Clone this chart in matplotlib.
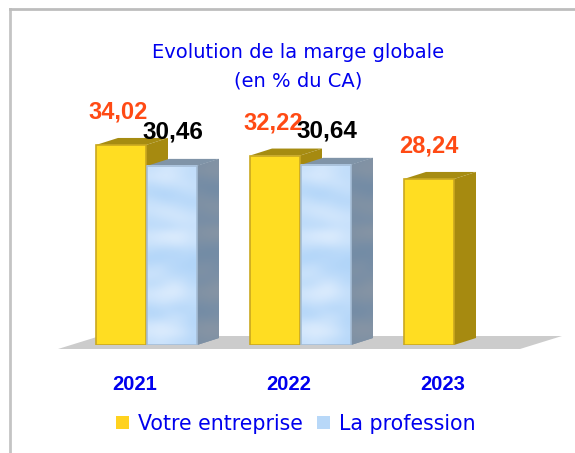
import matplotlib
matplotlib.use('Agg')
import matplotlib.pyplot as plt
import numpy as np
from matplotlib.patches import Polygon, Rectangle
from matplotlib.colors import LinearSegmentedColormap

years = ['2021', '2022', '2023']
votre_entreprise = [34.02, 32.22, 28.24]
la_profession = [30.46, 30.64]
labels_e = ['34,02', '32,22', '28,24']
labels_p = ['30,46', '30,64']
title = 'Evolution de la marge globale\n(en % du CA)'
legend_names = ['Votre entreprise', 'La profession']

# cloud pattern of the blue bars, read by eye (0 = sky, 1 = white), mostly horizontal streaks
clouds = [[.5, .6, .7, .6, .5, .4],
          [.7, .8, .8, .7, .5, .4],
          [.3, .4, .5, .5, .6, .5],
          [.2, .1, .1, .2, .3, .4],
          [.5, .4, .3, .3, .2, .2],
          [.6, .7, .7, .6, .5, .4],
          [.4, .5, .6, .7, .7, .6],
          [.3, .3, .3, .4, .5, .5],
          [.7, .8, .9, .9, .8, .6],
          [.6, .7, .7, .8, .7, .6],
          [.3, .2, .2, .2, .3, .3],
          [.1, .1, .2, .2, .2, .1],
          [.4, .5, .3, .2, .1, .1],
          [.6, .5, .4, .3, .3, .2],
          [.3, .4, .6, .7, .5, .3],
          [.7, .8, .9, .9, .7, .5],
          [.6, .7, .7, .6, .5, .4],
          [.2, .3, .3, .2, .2, .3],
          [.2, .2, .4, .5, .4, .2],
          [.7, .8, .7, .6, .4, .2],
          [.8, .9, .9, .8, .6, .3],
          [.5, .6, .5, .4, .3, .2]]
sky = LinearSegmentedColormap.from_list('sky', ['#acd2f8', '#e2effe'])
side = LinearSegmentedColormap.from_list('side', ['#6f8aa6', '#8a96a4'])

W, H = 575, 453
fig = plt.figure(figsize=(W / 100, H / 100), dpi=100)
base = 345
ax = fig.add_axes([0, (H - base) / H, 1, base / H])
unit_x = 154.0
unit_y = 5.88
for s in ax.spines.values():
    s.set_visible(False)
ax.patch.set_visible(False)

dx = 22 / unit_x
dy = 7 / unit_y
w = 50 / unit_x

# frame
fig.add_artist(plt.Line2D([10 / W, 10 / W], [0, 1 - 9 / H], color='#c4c4c4', lw=2))
fig.add_artist(plt.Line2D([10 / W, 1], [1 - 9 / H, 1 - 9 / H], color='#bdbdbd', lw=2))

# floor
f0 = -4 / unit_y
f1 = 9 / unit_y
ax.add_patch(Polygon([[(58 - 146.5) / unit_x, f0], [(520 - 146.5) / unit_x, f0],
                      [(562 - 146.5) / unit_x, f1], [(100 - 146.5) / unit_x, f1]],
                     fc='#cccccc', ec='none', clip_on=False, zorder=1))


def bar3d(left, v, front, top_c, side_c, edge, z, img=False):
    r = left + w
    ax.add_patch(Polygon([[left, v], [r, v], [r + dx, v + dy], [left + dx, v + dy]],
                         fc=top_c, ec='none', zorder=z))
    sp = Polygon([[r, 0], [r + dx, dy], [r + dx, v + dy], [r, v]],
                 fc=side_c, ec='none', zorder=z)
    ax.add_patch(sp)
    if img:
        ax.imshow(np.array(clouds), cmap=sky, vmin=0, vmax=1, aspect='auto',
                  extent=[left, r, 0, v], zorder=z + .1, interpolation='bicubic')
        ax.add_patch(Rectangle((left, 0), w, v, fc='none', ec=edge, lw=1.2, zorder=z + .2))
        im2 = ax.imshow(np.array(clouds)[:, :3], cmap=side, vmin=0, vmax=1, aspect='auto',
                        extent=[r, r + dx, 0, v + dy], zorder=z + .05, interpolation='bicubic')
        im2.set_clip_path(sp)
    else:
        ax.add_patch(Rectangle((left, 0), w, v, fc=front, ec=edge, lw=1.2, zorder=z + .1))


x = np.arange(len(years))
for i, v in enumerate(la_profession):
    bar3d(x[i] + .5 / unit_x, v, None, '#8094a8', '#7f93a8', '#a5bdd6', 4, img=True)
for i, v in enumerate(votre_entreprise):
    bar3d(x[i] - w - .5 / unit_x, v, '#ffdd22', '#a68c12', '#a68a10', '#c9a820', 3)
ax.set_xlim(-146.5 / unit_x, (W - 146.5) / unit_x)
ax.set_ylim(0, base / unit_y)

ax.set_xticks(x - 12 / unit_x)
ax.set_xticklabels(years, family='Liberation Sans', fontweight='bold', fontsize=14.5, color='#0000ee')
ax.tick_params(axis='x', length=0, pad=21.5)
ax.set_yticks([])

off_e = [-3.5, -2, -1]
for i, v in enumerate(votre_entreprise):
    ax.annotate(labels_e[i], (x[i] - w / 2, v), xytext=(off_e[i], 21),
                textcoords='offset pixels', ha='center', va='bottom', family='Liberation Sans',
                fontweight='bold', fontsize=17, color='#ff4a14', annotation_clip=False, zorder=8)
for i, v in enumerate(la_profession):
    ax.annotate(labels_p[i], (x[i] + w / 2, v), xytext=(1, 22),
                textcoords='offset pixels', ha='center', va='bottom', family='Liberation Sans',
                fontweight='bold', fontsize=17.5, color='black', annotation_clip=False, zorder=8)

fig.text(298 / W, 1 - 67 / H, title, ha='center', va='center', color='#0000ee',
         family='DejaVu Sans', fontsize=14, linespacing=1.65)

h1 = Rectangle((0, 0), 1, 1, fc='#ffd21f', ec='none')
h2 = Rectangle((0, 0), 1, 1, fc='#b8d8f8', ec='none')
fig.legend([h1, h2], legend_names, loc='center', bbox_to_anchor=(295.5 / W, 1 - 424 / H), ncols=2,
           frameon=False, prop={'family': 'DejaVu Sans', 'size': 14.8}, labelcolor='#0000ee',
           handlelength=.63, handleheight=.63, handletextpad=.44, columnspacing=.68,
           borderpad=0, borderaxespad=0)

fig.savefig('out.png', dpi=100)
